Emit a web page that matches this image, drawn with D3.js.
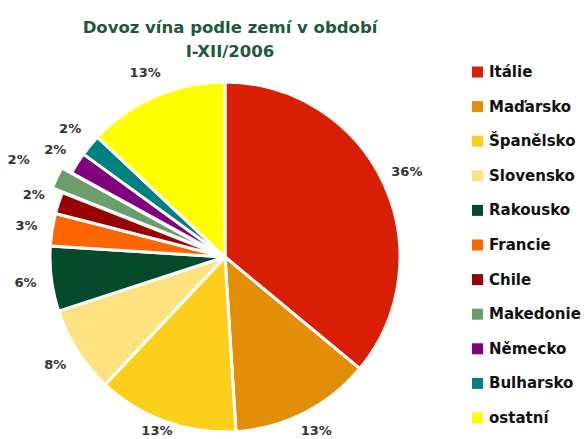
<!DOCTYPE html>
<html><head><meta charset="utf-8">
<script src="https://cdn.jsdelivr.net/npm/d3@7"></script>
<style>body{margin:0;background:#fff}svg{display:block}</style>
</head><body>
<svg id="chart" width="586" height="439"></svg>
<script>
const categories = ["Itálie","Maďarsko","Španělsko","Slovensko","Rakousko","Francie","Chile","Makedonie","Německo","Bulharsko","ostatní"];
const values = [36,13,13,8,6,3,2,2,2,2,13];
const colors = ["#d81f06","#e28e07","#fccf1b","#fde27f","#064a2c","#ff6600","#990000","#6b9e6b","#800080","#008080","#ffff00"];
const exploded = ["Makedonie"];
const titleLines = ["Dovoz vína podle zemí v období","I-XII/2006"];

const svg = d3.select("#chart");
const cx = 225, cy = 257, r = 175, labelR = 201, explode = 11;
const total = d3.sum(values);
const data = categories.map((c,i)=>({name:c, value:values[i], color:colors[i]}));
const pie = d3.pie().value(d=>d.value).sort(null);
const arcs = pie(data);
const arc = d3.arc().innerRadius(0).outerRadius(r);
const labelArc = d3.arc().innerRadius(labelR).outerRadius(labelR);

const g = svg.append("g").attr("transform",`translate(${cx},${cy})`);
function offset(d){
  if(!exploded.includes(d.data.name)) return [0,0];
  const a=(d.startAngle+d.endAngle)/2;
  return [explode*Math.sin(a), -explode*Math.cos(a)];
}
g.selectAll("path").data(arcs).join("path")
  .attr("d",arc)
  .attr("fill",d=>d.data.color)
  .attr("stroke","#fff").attr("stroke-width",3).attr("stroke-linejoin","round")
  .attr("transform",d=>{const o=offset(d);return `translate(${o[0]},${o[1]})`;});

g.selectAll("text.lbl").data(arcs).join("text").attr("class","lbl")
  .attr("transform",d=>{const c=labelArc.centroid(d);const o=offset(d);const k=exploded.includes(d.data.name)?1.08:1;return `translate(${c[0]*k+o[0]},${Math.min(c[1]*k+o[1],173)})`;})
  .attr("text-anchor","middle").attr("dominant-baseline","central")
  .attr("font-family","DejaVu Sans, Verdana, sans-serif").attr("font-weight","bold")
  .attr("font-size",13).attr("fill","#333")
  .text(d=>Math.round(d.data.value/total*100)+"%");

svg.selectAll("text.title").data(titleLines).join("text").attr("class","title")
  .attr("x",230).attr("y",(d,i)=>33+i*24)
  .attr("text-anchor","middle")
  .attr("font-family","DejaVu Sans, Verdana, sans-serif").attr("font-weight","bold")
  .attr("font-size",16.5).attr("fill","#1d5a3b")
  .text(d=>d);

const leg = svg.append("g");
const ly = d3.scalePoint().domain(categories).range([72,418]);
const items = leg.selectAll("g").data(data).join("g")
  .attr("transform",d=>`translate(472,${ly(d.name)})`);
items.append("rect").attr("x",0).attr("y",-5.5).attr("width",11).attr("height",11).attr("fill",d=>d.color);
items.append("text").attr("x",17).attr("y",0).attr("dominant-baseline","central")
  .attr("font-family","DejaVu Sans, Verdana, sans-serif").attr("font-weight","bold")
  .attr("font-size",15).attr("fill","#111").text(d=>d.name);
</script>
</body></html>
